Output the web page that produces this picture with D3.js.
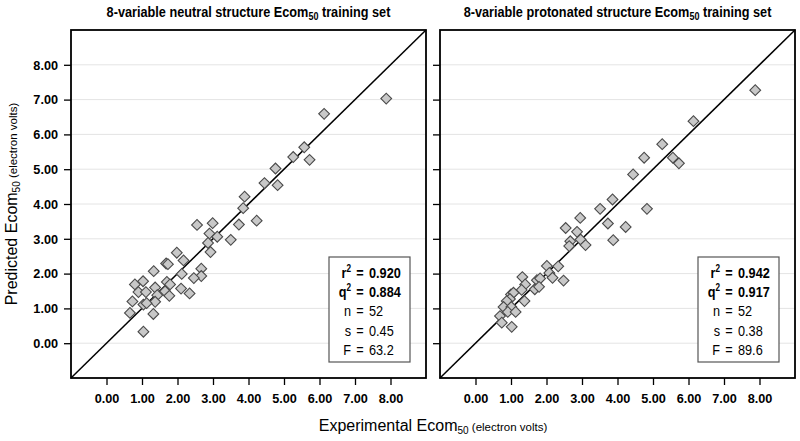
<!DOCTYPE html>
<html>
<head>
<meta charset="utf-8">
<script src="https://cdn.jsdelivr.net/npm/d3@7"></script>
<style>
  html, body { margin: 0; padding: 0; background: #fff; }
  svg { display: block; font-family: "Liberation Sans", Arial, sans-serif; }
</style>
</head>
<body>
<svg id="chart" width="800" height="441"></svg>
<script>
// ---------- data ----------
const tickValues = [0, 1, 2, 3, 4, 5, 6, 7, 8];
const panelTitles = ["8-variable neutral structure Ecom", "8-variable protonated structure Ecom"];
const statNames = ["r", "q", "n", "s", "F"];
const neutralStats = ["0.920", "0.884", "52", "0.45", "63.2"];
const protonatedStats = ["0.942", "0.917", "52", "0.38", "89.6"];

const neutralExp = [7.88, 6.13, 5.57, 5.26, 5.72, 4.76, 4.45, 4.82, 3.89, 3.85, 3.73, 4.23, 2.55, 2.99, 2.90, 3.12, 3.50, 2.86, 2.93, 1.98, 2.17, 1.68, 1.73, 1.33, 2.12, 2.67, 2.67, 2.46, 0.80, 1.03, 1.70, 1.79, 1.37, 2.10, 0.90, 1.11, 1.65, 1.77, 2.34, 1.43, 0.73, 1.37, 1.04, 1.13, 0.66, 1.32, 1.04];
const neutralPred = [7.03, 6.59, 5.63, 5.35, 5.27, 5.02, 4.60, 4.54, 4.21, 3.88, 3.41, 3.52, 3.40, 3.45, 3.15, 3.06, 2.97, 2.88, 2.62, 2.60, 2.38, 2.29, 2.27, 2.07, 1.99, 2.14, 1.93, 1.87, 1.69, 1.78, 1.76, 1.69, 1.60, 1.57, 1.47, 1.47, 1.49, 1.36, 1.43, 1.38, 1.20, 1.19, 1.11, 1.15, 0.87, 0.84, 0.33];

const protonatedExp = [7.88, 6.14, 5.26, 4.75, 5.56, 5.73, 4.44, 3.86, 3.51, 4.83, 2.95, 3.73, 4.23, 2.54, 2.86, 3.88, 2.67, 2.96, 3.10, 2.64, 2.01, 2.33, 2.08, 2.17, 2.48, 1.32, 1.73, 1.82, 1.40, 1.67, 1.79, 1.30, 1.00, 1.07, 0.97, 1.38, 0.88, 0.79, 1.01, 0.91, 1.13, 0.69, 0.74, 1.02];
const protonatedPred = [7.27, 6.38, 5.72, 5.33, 5.33, 5.17, 4.85, 4.13, 3.86, 3.86, 3.60, 3.44, 3.34, 3.31, 3.20, 2.96, 2.93, 2.98, 2.82, 2.79, 2.22, 2.21, 2.02, 1.88, 1.80, 1.90, 1.81, 1.86, 1.69, 1.55, 1.62, 1.53, 1.40, 1.45, 1.27, 1.21, 1.21, 1.04, 1.04, 0.90, 0.90, 0.78, 0.59, 0.47];

// ---------- layout ----------
const SX = 0.82;   // horizontal condensing of the narrow text
const TSX = 0.94;  // condensing for tick labels
const svg = d3.select("#chart");
svg.append("rect").attr("width", 800).attr("height", 441).attr("fill", "#fff");

const plotTop = 30, plotBottom = 378;
const panels = [
  { x0: 71, x1: 426, title: panelTitles[0], exp: neutralExp, pred: neutralPred, stats: neutralStats, labels: true },
  { x0: 440, x1: 795, title: panelTitles[1], exp: protonatedExp, pred: protonatedPred, stats: protonatedStats, labels: false }
];

function ntext(parent, x, y, anchor, size, weight) {
  return parent.append("text")
    .attr("transform", `translate(${x},${y}) scale(${SX},1)`)
    .attr("text-anchor", anchor)
    .attr("font-size", size)
    .attr("font-weight", weight || "normal")
    .attr("fill", "#000");
}

panels.forEach(p => {
  const x = d3.scaleLinear().domain([-1, 9]).range([p.x0, p.x1]);
  const y = d3.scaleLinear().domain([-1, 9]).range([plotBottom, plotTop]);
  const g = svg.append("g");

  // gridlines
  g.selectAll("line.grid").data(tickValues).join("line")
    .attr("class", "grid")
    .attr("x1", p.x0).attr("x2", p.x1)
    .attr("y1", d => y(d)).attr("y2", d => y(d))
    .attr("stroke", "#e4e4e4").attr("stroke-width", 1);

  // diagonal
  g.append("line")
    .attr("x1", x(-1)).attr("y1", y(-1))
    .attr("x2", x(9)).attr("y2", y(9))
    .attr("stroke", "#000").attr("stroke-width", 1.5);

  // points
  const sym = d3.symbol(d3.symbolSquare, 58);
  g.selectAll("path.pt").data(p.exp.map((e, i) => [e, p.pred[i]])).join("path")
    .attr("class", "pt")
    .attr("d", sym)
    .attr("transform", d => `translate(${x(d[0])},${y(d[1])}) rotate(45)`)
    .attr("fill", "#c8c8c8")
    .attr("stroke", "#4a4a4a")
    .attr("stroke-width", 1.1);

  // frame
  g.append("rect")
    .attr("x", p.x0).attr("y", plotTop)
    .attr("width", p.x1 - p.x0).attr("height", plotBottom - plotTop)
    .attr("fill", "none").attr("stroke", "#000").attr("stroke-width", 1.8);

  // axes
  const ax = g.append("g").attr("transform", `translate(0,${plotBottom})`)
    .call(d3.axisBottom(x).tickValues(tickValues).tickFormat(d3.format(".2f")).tickSize(7).tickPadding(8));
  const ay = g.append("g").attr("transform", `translate(${p.x0},0)`)
    .call(d3.axisLeft(y).tickValues(tickValues).tickFormat(d3.format(".2f")).tickSize(7).tickPadding(6));
  [ax, ay].forEach(a => {
    a.select(".domain").remove();
    a.selectAll(".tick line").attr("stroke", "#000").attr("stroke-width", 1.3);
    a.selectAll(".tick text")
      .attr("fill", "#000")
      .attr("font-size", 13.5)
      .attr("font-weight", "bold")
      .attr("font-family", "'Liberation Sans', Arial, sans-serif");
  });
  ax.selectAll(".tick text").attr("transform", `scale(${TSX},1)`);
  ay.selectAll(".tick text").attr("transform", `scale(${TSX},1)`).attr("x", -13 / TSX);
  if (!p.labels) ay.selectAll(".tick text").remove();

  // title
  const cx = (p.x0 + p.x1) / 2;
  const t = ntext(svg, cx, 17, "middle", 15.5, "bold");
  t.append("tspan").text(p.title);
  t.append("tspan").attr("font-size", 11).attr("dy", 3).text("50");
  t.append("tspan").attr("dy", -3).text(" training set");

  // stats box
  const bx = p.x0 + 258, by = 257;
  g.append("rect").attr("x", bx).attr("y", by).attr("width", 81).attr("height", 105)
    .attr("fill", "#fff").attr("stroke", "#555").attr("stroke-width", 1.2);
  const eqX = bx + 31;
  statNames.forEach((nm, i) => {
    const yy = by + 21 + i * 19.2;
    const bold = i < 2 ? "bold" : "normal";
    const lab = ntext(g, eqX - 9, yy, "end", 15.5, bold);
    lab.append("tspan").text(nm);
    if (i < 2) lab.append("tspan").attr("font-size", 10).attr("dy", -6).text("2");
    ntext(g, eqX, yy, "middle", 15.5, bold).text("=");
    ntext(g, eqX + 9, yy, "start", 15.5, bold).text(p.stats[i]);
  });
});

// axis titles
const xt = svg.append("text").attr("x", 433).attr("y", 431).attr("text-anchor", "middle")
  .attr("font-size", 16).attr("fill", "#000");
xt.append("tspan").text("Experimental Ecom");
xt.append("tspan").attr("font-size", 10).attr("dy", 3).text("50");
xt.append("tspan").attr("font-size", 11.5).attr("dy", -3).text(" (electron volts)");

const yt = svg.append("text").attr("transform", "translate(17,204) rotate(-90)").attr("text-anchor", "middle")
  .attr("font-size", 16).attr("fill", "#000");
yt.append("tspan").text("Predicted Ecom");
yt.append("tspan").attr("font-size", 10).attr("dy", 3).text("50");
yt.append("tspan").attr("font-size", 11.5).attr("dy", -3).text(" (electron volts)");
</script>
</body>
</html>
